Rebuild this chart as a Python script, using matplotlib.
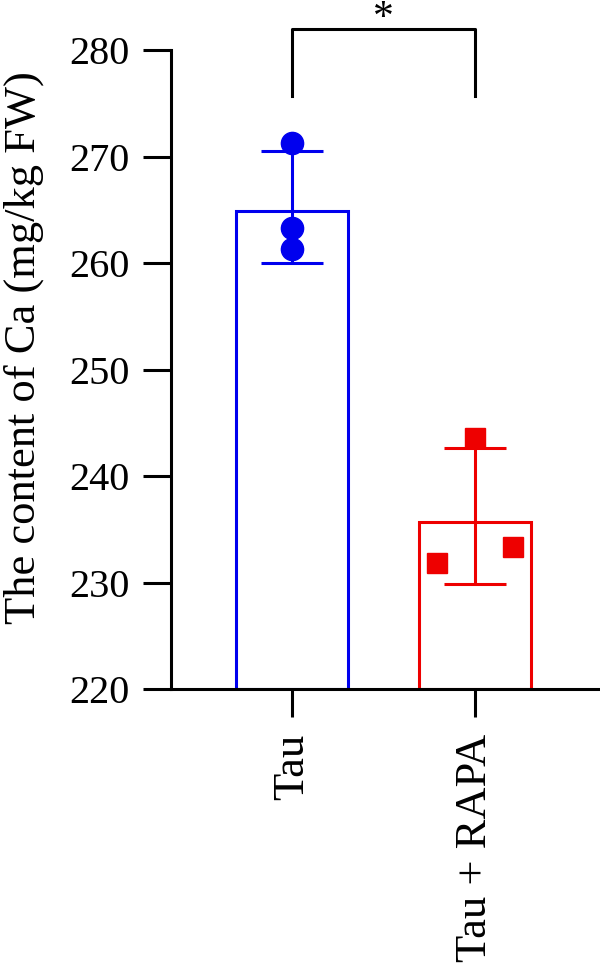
import numpy as np
import matplotlib.pyplot as plt

plt.rcParams['font.family'] = ['Liberation Serif', 'DejaVu Serif']

groups = ["Tau", "Tau + RAPA"]
means = [264.9, 235.7]
sd_low = [260.0, 229.9]
sd_high = [270.5, 242.6]
tau_points = [271.3, 263.3, 261.3]
rapa_points = [243.6, 231.8, 233.3]
rapa_offsets = [0.0, -0.21, 0.21]
colors = ["#0000ee", "#ee0000"]

fig = plt.figure(figsize=(6, 9.68), dpi=100)
ax = fig.add_axes([0.285, 0.2882, 0.715, 0.6601])

x = np.arange(len(groups))
ax.bar(x, [m - 220 for m in means], bottom=220, width=0.607,
       facecolor="none", edgecolor=colors, linewidth=2.2, zorder=2)

for i in range(len(groups)):
    yerr = [[means[i] - sd_low[i]], [sd_high[i] - means[i]]]
    ax.errorbar(x[i], means[i], yerr=yerr, color=colors[i], capsize=22,
                capthick=2.2, elinewidth=2.2, fmt="none", zorder=3)

ax.plot(np.full(len(tau_points), x[0]), tau_points, "o", color=colors[0],
        markersize=16, linestyle="none", zorder=4)
ax.plot(x[1] + np.array(rapa_offsets), rapa_points, "s", color=colors[1],
        markersize=15, linestyle="none", zorder=4)

# significance bracket
ax.plot([x[0], x[0], x[1], x[1]], [275.7, 281.97, 281.97, 275.7],
        color="black", linewidth=2.2, clip_on=False)
ax.text((x[0] + x[1]) / 2, 282.0, "*", ha="center", va="baseline",
        fontsize=30, clip_on=False)

ax.set_ylim(220, 280)
ax.set_xlim(-0.661, 1.683)
ax.set_yticks(np.arange(220, 281, 10))
ax.set_xticks(x)
ax.set_xticklabels(groups, rotation=90)
ax.set_ylabel("The content of Ca (mg/kg FW)", fontsize=32)
ax.yaxis.set_label_coords(-0.296, 0.535)

for side in ["top", "right"]:
    ax.spines[side].set_visible(False)
for side in ["left", "bottom"]:
    ax.spines[side].set_linewidth(2.2)
ax.tick_params(axis="both", length=20, width=2.2)
ax.tick_params(axis="y", labelsize=29, pad=10)
ax.tick_params(axis="x", labelsize=32, pad=12)

fig.savefig("out.png", dpi=100)
